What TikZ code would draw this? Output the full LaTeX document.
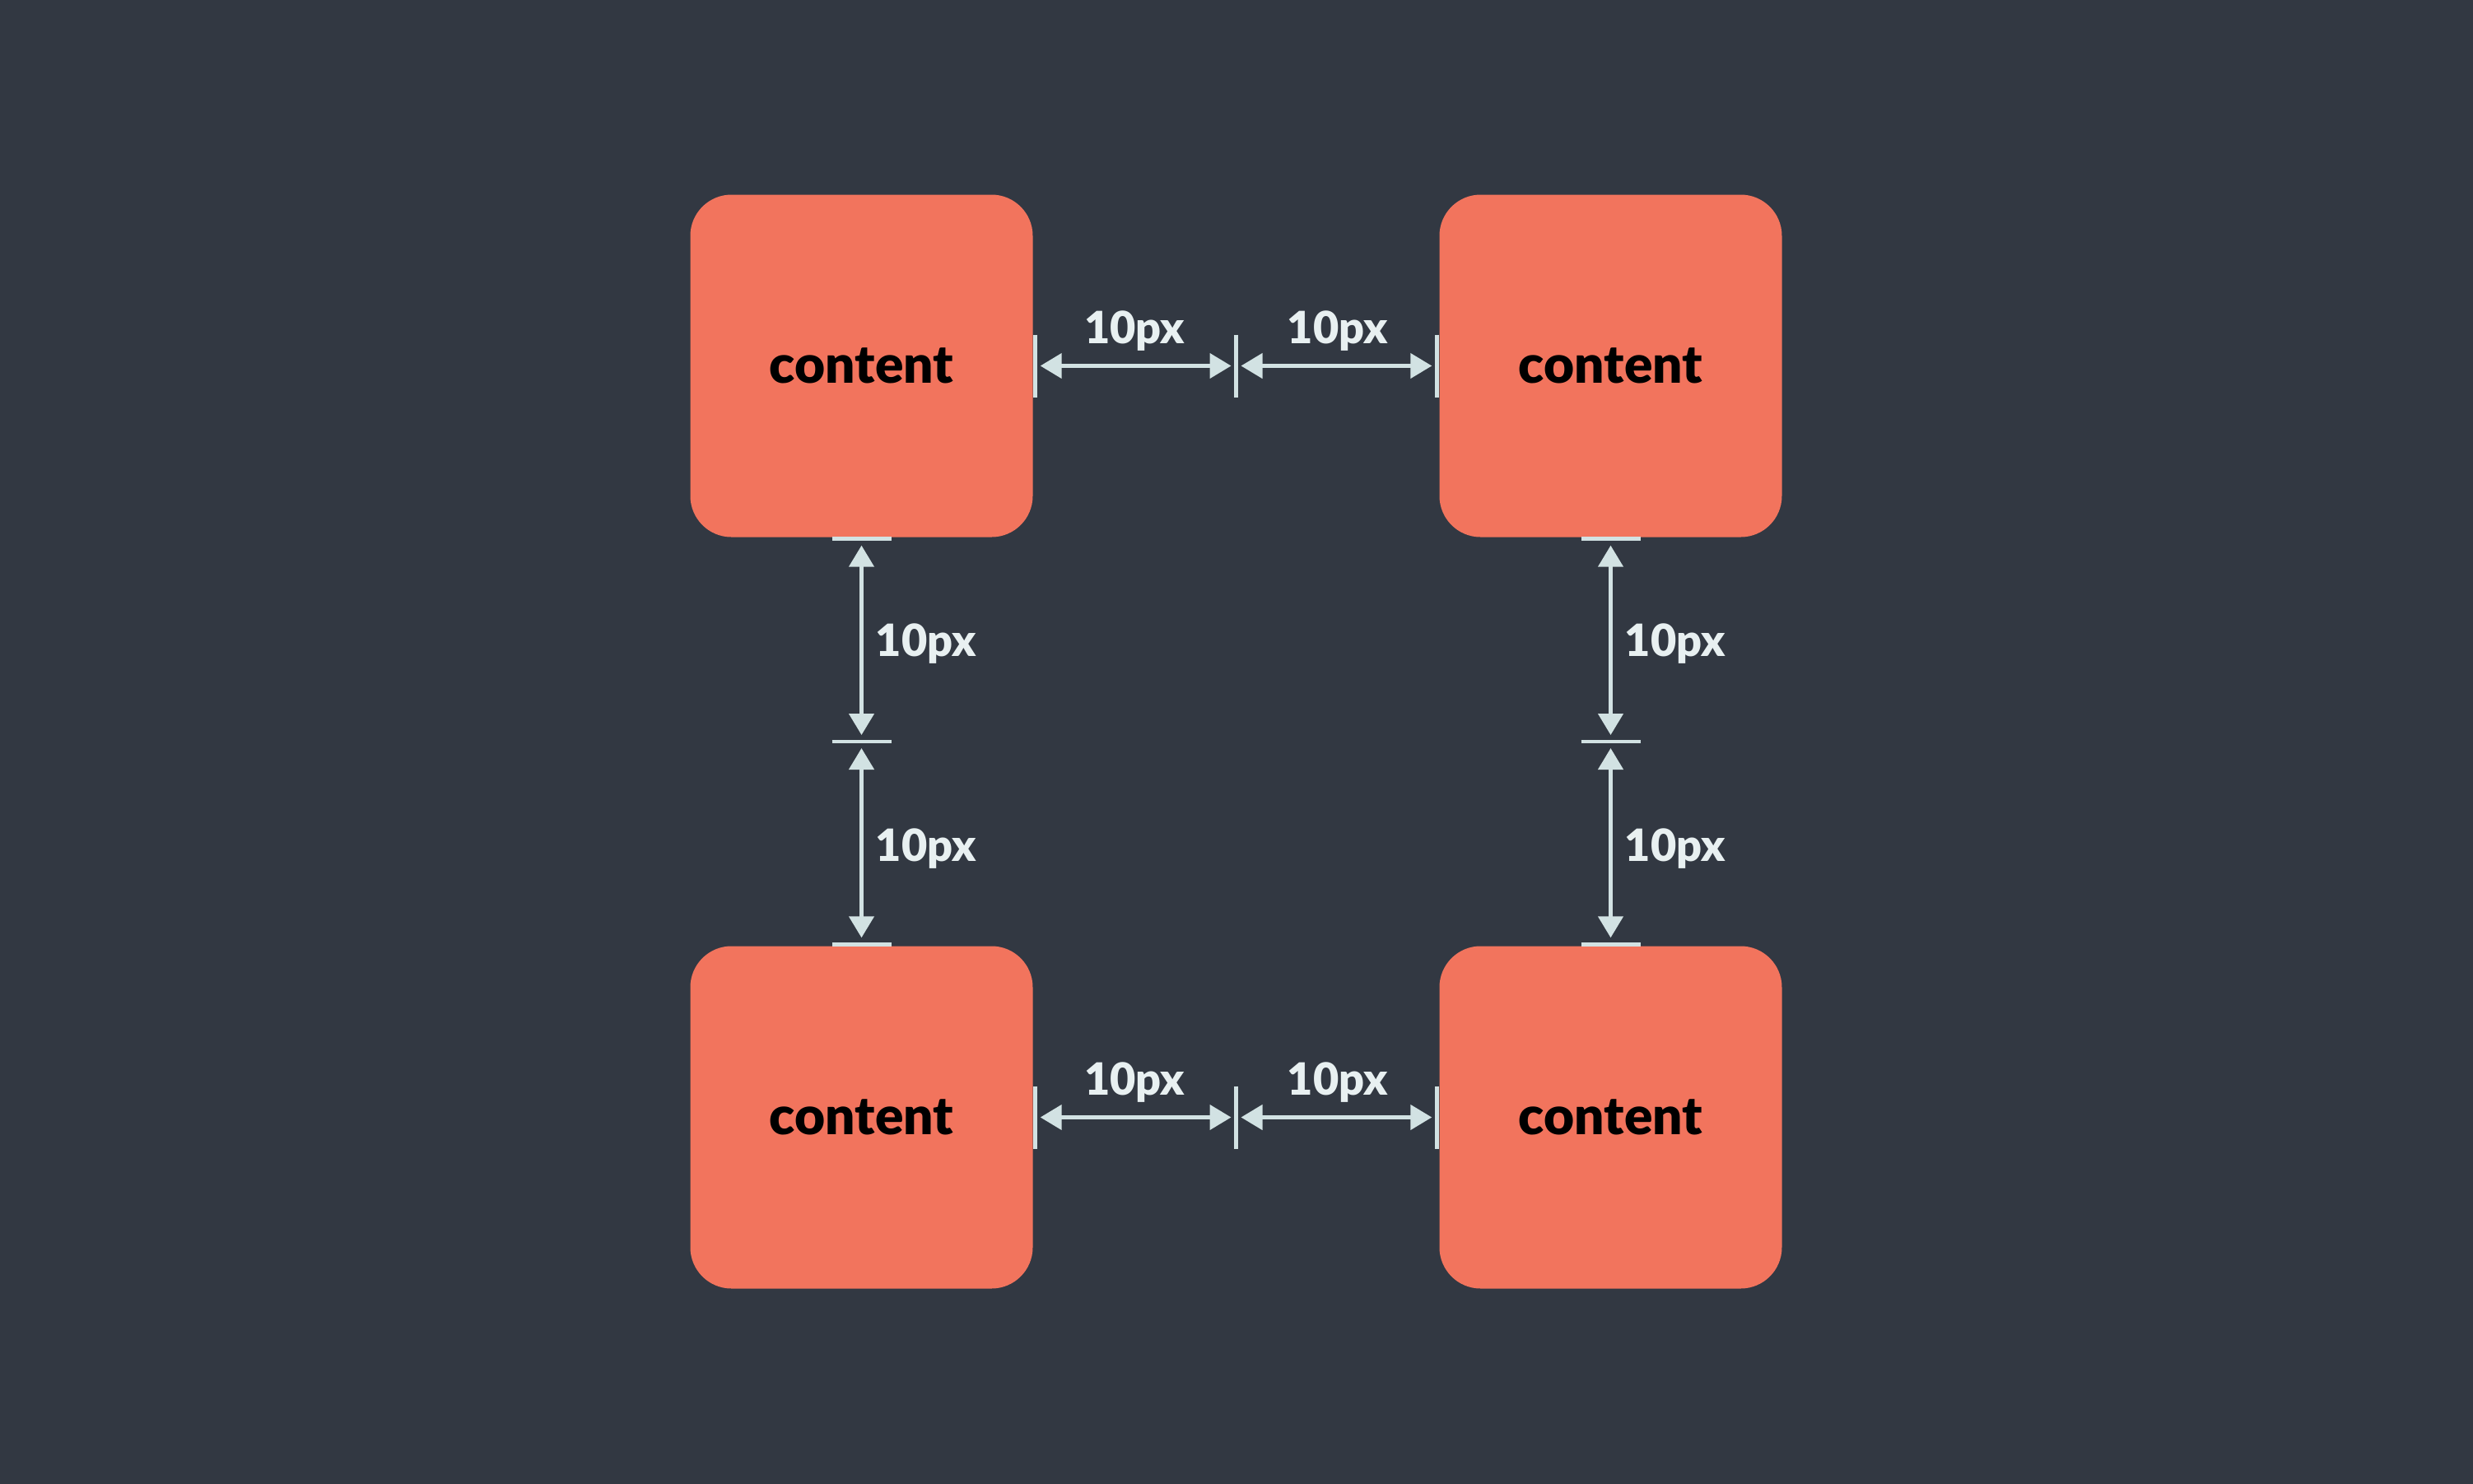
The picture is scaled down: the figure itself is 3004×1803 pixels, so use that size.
\documentclass[tikz,border=0pt]{standalone}
\usepackage{fontspec}
\setmainfont{Lato}[BoldFont={Lato Black}]
\usepackage{tikz}
\usetikzlibrary{arrows.meta}
\usetikzlibrary{calc}
\usetikzlibrary{matrix}

\definecolor{bgdark}{HTML}{323842}
\definecolor{boxred}{HTML}{F2745D}
\definecolor{dimline}{HTML}{D2E2E3}
\definecolor{dimtext}{HTML}{E8F0F1}

\tikzset{
	cell/.style={fill=boxred, rounded corners=50pt, minimum size=416pt, inner sep=0pt,
		text=black, font=\fontsize{64}{70}\selectfont\bfseries},
	dim/.style={draw=dimline, line width=4.5pt,
		{Triangle[length=26pt,width=30pt]}-{Triangle[length=26pt,width=30pt]}},
	tick/.style={draw=dimline, line width=4.5pt},
	gap/.style={text=dimtext, inner sep=0pt, font=\fontsize{54}{58}\selectfont\bfseries}
}

\begin{document}
\begin{tikzpicture}[x=1pt,y=-1pt]
		\fill[bgdark] (0,0) rectangle (3004,1803);
		
		\matrix (m) [matrix of nodes,
		nodes=cell,
		column sep=494pt, row sep=497pt
		] at (1501.5,901)
		{
			content & content \\
			content & content \\
		};
		
		% gaps between the rows
		\coordinate (mt) at ($(m-1-1.east)!0.5!(m-1-2.west)$);
		\coordinate (mb) at ($(m-2-1.east)!0.5!(m-2-2.west)$);
		\foreach \a/\b/\c in {m-1-1/mt/m-1-2, m-2-1/mb/m-2-2}{
			\draw[tick] ([xshift=3pt,yshift=38pt]\a.east) -- ([xshift=3pt,yshift=-38pt]\a.east);
			\draw[tick] ([yshift=38pt]\b) -- ([yshift=-38pt]\b);
			\draw[tick] ([xshift=-3pt,yshift=38pt]\c.west) -- ([xshift=-3pt,yshift=-38pt]\c.west);
			\draw[dim] ([xshift=9pt]\a.east) -- ([xshift=-6pt]\b);
			\draw[dim] ([xshift=6pt]\b) -- ([xshift=-9pt]\c.west);
			\node[gap, anchor=base, yshift=27pt] at ($(\a.east)!0.5!(\b)$) {10px};
			\node[gap, anchor=base, yshift=27pt] at ($(\b)!0.5!(\c.west)$) {10px};
		}
		
		% gaps between the columns
		\coordinate (ml) at ($(m-1-1.south)!0.5!(m-2-1.north)$);
		\coordinate (mr) at ($(m-1-2.south)!0.5!(m-2-2.north)$);
		\foreach \a/\b/\c in {m-1-1/ml/m-2-1, m-1-2/mr/m-2-2}{
			\draw[tick] ([xshift=-36pt,yshift=-2pt]\a.south) -- ([xshift=36pt,yshift=-2pt]\a.south);
			\draw[tick] ([xshift=-36pt]\b) -- ([xshift=36pt]\b);
			\draw[tick] ([xshift=-36pt,yshift=2pt]\c.north) -- ([xshift=36pt,yshift=2pt]\c.north);
			\draw[dim] ([yshift=-10pt]\a.south) -- ([yshift=8pt]\b);
			\draw[dim] ([yshift=-8pt]\b) -- ([yshift=10pt]\c.north);
			\node[gap, anchor=base west, xshift=17pt, yshift=-21pt] at ($(\a.south)!0.5!(\b)$) {10px};
			\node[gap, anchor=base west, xshift=17pt, yshift=-21pt] at ($(\b)!0.5!(\c.north)$) {10px};
		}
	\end{tikzpicture}
\end{document}
